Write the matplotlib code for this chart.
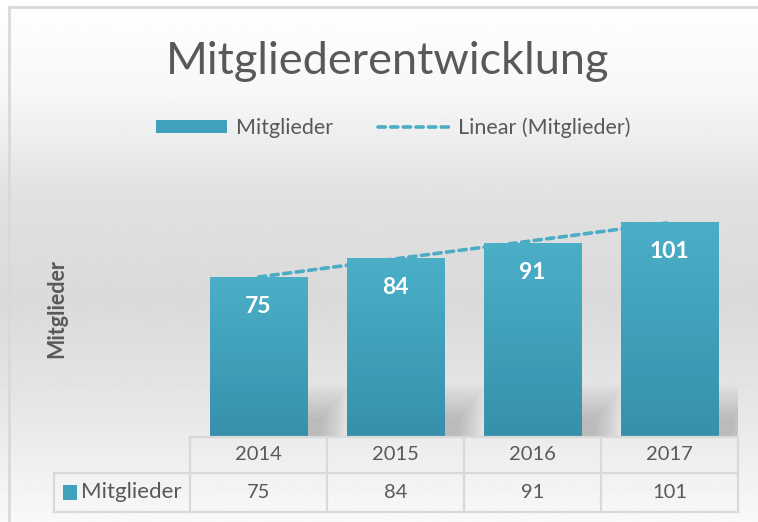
import numpy as np
import matplotlib
matplotlib.use("Agg")
import matplotlib.pyplot as plt
from matplotlib.patches import Patch, Rectangle
from matplotlib.lines import Line2D
from matplotlib.colors import LinearSegmentedColormap

years = ["2014", "2015", "2016", "2017"]
members = [75, 84, 91, 101]
series_name = "Mitglieder"
title = "Mitgliederentwicklung"

plt.rcParams["font.family"] = ["Lato", "DejaVu Sans"]

W, H = 758, 522
text_col = "#595959"
grid_col = "#d9d9d9"
bar_top = "#4bafc8"
bar_bot = "#3790aa"


def fx(px):
    return px / W


def fy(py):
    return 1 - py / H


fig = plt.figure(figsize=(W / 100, H / 100), dpi=100)

# background gradient
bg = fig.add_axes([0, 0, 1, 1], zorder=-10)
grad = np.interp(np.linspace(0, H, 300),
                 [0, 90, 200, 300, 400, 522],
                 [1.0, 0.97, 0.88, 0.855, 0.90, 0.975])
bg.imshow(grad[:, None], aspect="auto", cmap="gray", vmin=0, vmax=1,
          extent=[0, 1, 0, 1])
bg.set_xlim(0, 1)
bg.set_ylim(0, 1)
bg.axis("off")
bg.add_patch(Rectangle((fx(9), fy(530)), 1, fy(7) - fy(530),
                       fill=False, edgecolor=grid_col, lw=2))

# main axes
ax = fig.add_axes([fx(190), fy(437), fx(738) - fx(190), fy(181) - fy(437)])
ax.patch.set_alpha(0)
x = np.arange(len(years))
bars = ax.bar(x, members, width=0.715, color=bar_top, zorder=3)
ax.set_xlim(-0.5, len(years) - 0.5)
ax.set_ylim(0, 120)

cmap = LinearSegmentedColormap.from_list("bar", [bar_bot, bar_top])
gradient = np.linspace(0, 1, 256)[:, None]
for b in bars:
    x0, y0 = b.get_x(), b.get_y()
    im = ax.imshow(gradient, cmap=cmap, aspect="auto", origin="lower",
                   extent=[x0, x0 + b.get_width(), y0, y0 + b.get_height()],
                   zorder=3)
    im.set_clip_path(b)

# soft shadow behind bars
for b in bars:
    x0 = b.get_x() + b.get_width()
    for k in range(14):
        ax.fill([x0 - 0.05, x0 + 0.3 - k * 0.015, x0 + 0.3 - k * 0.015, x0 - 0.05],
                [0, 0, 24 - k * 1.2, 24 - k * 1.2],
                color="#8a8a8a", alpha=0.04, lw=0, zorder=1)

# linear trendline
coef = np.polyfit(x, members, 1)
ax.plot(x, np.polyval(coef, x), ls=(0, (2.0, 1.5)), lw=2.6, color="#4bacc6",
        dash_capstyle="round", zorder=2)

for xi, v in zip(x, members):
    ax.annotate(str(v), (xi, v), xytext=(0, -21.5), textcoords="offset points",
                ha="center", va="center", color="white", fontsize=16.5,
                fontweight="bold", zorder=5)

ax.set_xticks([])
ax.set_yticks([])
for s in ax.spines.values():
    s.set_visible(False)

# data table below the plot
tr = ax.get_xaxis_transform()
row1_top, row1_bot = 0, (fy(473) - fy(437)) / (fy(181) - fy(437))
row2_bot = (fy(512) - fy(437)) / (fy(181) - fy(437))
left_edge = -0.5 - (190 - 54) / 137.0
lk = dict(color=grid_col, lw=1.6, transform=tr, clip_on=False, zorder=4)
ax.plot([-0.5, len(years) - 0.5], [row1_top, row1_top], **lk)
ax.plot([left_edge, len(years) - 0.5], [row1_bot, row1_bot], **lk)
ax.plot([left_edge, len(years) - 0.5], [row2_bot, row2_bot], **lk)
ax.plot([left_edge, left_edge], [row1_bot, row2_bot], **lk)
for i in range(len(years) + 1):
    ax.plot([i - 0.5, i - 0.5], [row1_top, row2_bot], **lk)
for xi, yr, v in zip(x, years, members):
    ax.text(xi, (row1_top + row1_bot) / 2, yr, transform=tr, ha="center",
            va="center", fontsize=14.5, color=text_col)
    ax.text(xi, (row1_bot + row2_bot) / 2, str(v), transform=tr, ha="center",
            va="center", fontsize=14.5, color=text_col)
ax.add_patch(Rectangle((left_edge + 0.065, (row1_bot + row2_bot) / 2 - 0.028),
                       0.1, 0.056, transform=tr, clip_on=False,
                       facecolor="#41a0bb", edgecolor="none"))
ax.text(left_edge + 0.2, (row1_bot + row2_bot) / 2, series_name, transform=tr,
        ha="left", va="center", fontsize=16, color=text_col)

# title, axis label, legend
fig.text(fx(388), fy(62), title, ha="center", va="center", fontsize=32.5,
         color=text_col)
fig.text(fx(57), fy(309), series_name, rotation=90, ha="center", va="center",
         fontsize=15.5, fontweight="bold", color=text_col)

handles = [Patch(facecolor="#41a0bb", edgecolor="none", label=series_name),
           Line2D([], [], ls=(0, (2.0, 1.5)), lw=2.6, color="#4bacc6",
                  dash_capstyle="round", label="Linear (" + series_name + ")")]
fig.legend(handles=handles, loc="center", bbox_to_anchor=(fx(393), fy(128)),
           ncol=2, frameon=False, fontsize=15.5, labelcolor=text_col,
           handlelength=3.3, handleheight=0.55, columnspacing=2.1,
           handletextpad=0.4)

fig.savefig("out.png", dpi=100)
